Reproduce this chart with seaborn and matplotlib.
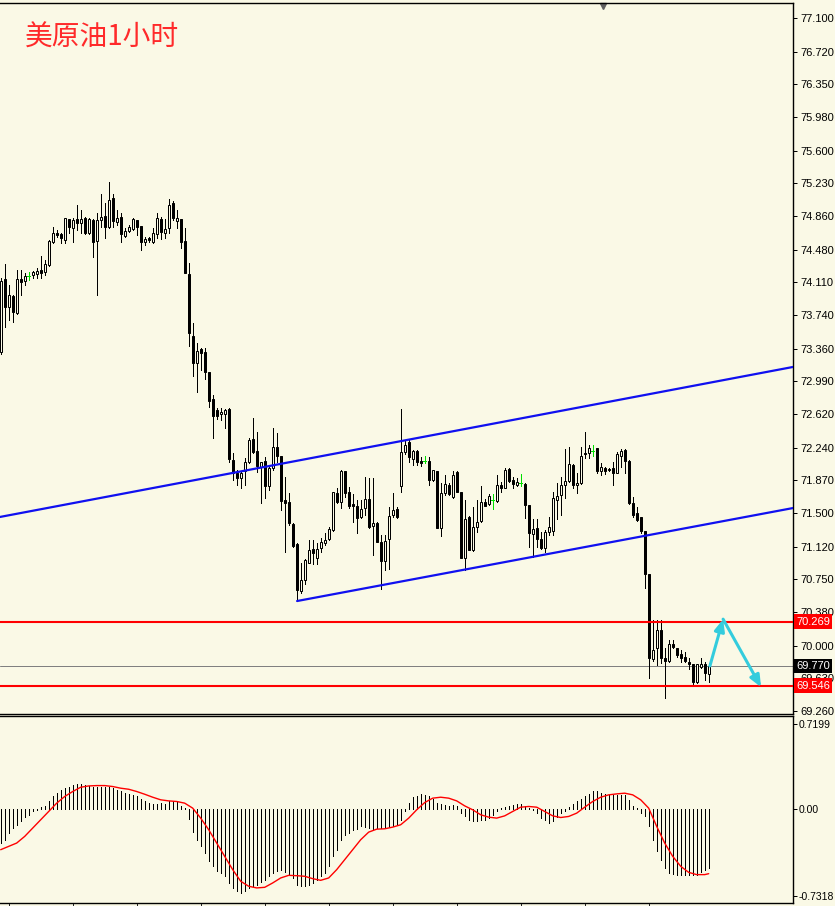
import numpy as np
import pandas as pd
import seaborn as sns
import matplotlib.pyplot as plt
from matplotlib import transforms

# OHLC, one hourly candle per entry
opens = [73.32, 74.15, 73.83, 73.96, 73.76, 74.15, 74.13, 74.18, 74.19, 74.20,
         74.25, 74.23, 74.31, 74.57, 74.67, 74.66, 74.59, 74.83, 74.73, 74.83,
         74.78, 74.84, 74.67, 74.82, 74.58, 74.82, 74.86, 74.74, 75.06, 74.79,
         74.85, 74.63, 74.69, 74.71, 74.82, 74.75, 74.57, 74.61, 74.57, 74.66,
         74.83, 74.67, 74.73, 75.01, 74.80, 74.83, 74.58, 74.20, 73.50, 73.20,
         73.36, 73.32, 73.10, 72.79, 72.67, 72.62, 72.62, 72.68, 72.10, 71.95,
         71.90, 71.98, 72.08, 72.34, 72.20, 72.02, 72.09, 71.81, 72.01, 72.25,
         72.15, 71.65, 71.63, 71.38, 71.15, 70.62, 70.74, 70.94, 71.09, 70.99,
         71.11, 71.16, 71.21, 71.31, 71.73, 71.63, 71.98, 71.74, 71.60, 71.58,
         71.46, 71.56, 71.66, 71.35, 71.39, 71.17, 70.96, 71.21, 71.48, 71.55,
         71.81, 72.19, 72.30, 72.11, 72.20, 72.09, 72.09, 72.09, 71.87, 71.98,
         71.33, 71.73, 71.82, 71.68, 71.96, 71.74, 70.99, 71.46, 71.08, 71.34,
         71.41, 71.63, 71.60, 71.65, 71.64, 71.82, 71.78, 72.00, 71.87, 71.82,
         71.84, 71.83, 71.59, 71.26, 71.33, 71.21, 71.10, 71.29, 71.30, 71.65,
         71.70, 71.82, 71.86, 72.04, 71.82, 71.84, 72.18, 72.18, 72.20, 72.24,
         71.98, 72.01, 72.00, 72.01, 71.95, 72.14, 72.21, 72.09, 71.61, 71.50,
         71.46, 71.30, 70.81, 69.85, 69.97, 70.18, 69.86, 69.83, 70.02, 69.97,
         69.91, 69.87, 69.82, 69.79, 69.59, 69.76, 69.79, 69.68]
highs = [74.16, 74.32, 74.08, 73.97, 74.25, 74.25, 74.22, 74.23, 74.24, 74.27,
         74.41, 74.36, 74.59, 74.74, 74.70, 74.67, 74.84, 74.83, 74.84, 74.99,
         74.93, 74.85, 74.84, 74.83, 74.90, 75.11, 75.01, 75.25, 75.11, 74.93,
         74.90, 74.72, 74.76, 74.84, 74.82, 74.75, 74.62, 74.62, 74.73, 74.90,
         74.85, 74.83, 75.05, 75.03, 74.93, 74.83, 74.73, 74.33, 73.65, 73.42,
         73.37, 73.37, 73.10, 72.84, 72.69, 72.69, 72.68, 72.69, 72.18, 71.99,
         71.97, 72.12, 72.35, 72.58, 72.42, 72.08, 72.13, 72.02, 72.46, 72.41,
         72.15, 71.91, 71.73, 71.39, 71.16, 70.94, 70.98, 71.20, 71.20, 71.16,
         71.22, 71.27, 71.34, 71.74, 71.78, 71.99, 71.98, 71.79, 71.72, 71.65,
         71.65, 71.91, 71.90, 71.90, 71.40, 71.25, 71.25, 71.57, 71.73, 71.57,
         72.68, 72.33, 72.34, 72.21, 72.21, 72.13, 72.14, 72.13, 71.99, 71.98,
         71.84, 71.93, 71.84, 71.98, 71.98, 71.74, 71.65, 71.47, 71.57, 71.65,
         71.81, 71.66, 71.72, 71.72, 71.93, 71.85, 72.01, 72.01, 71.91, 71.90,
         71.94, 71.84, 71.59, 71.43, 71.43, 71.29, 71.31, 71.46, 71.74, 71.84,
         71.91, 72.23, 72.25, 72.06, 71.95, 72.25, 72.42, 72.27, 72.27, 72.24,
         72.07, 72.02, 72.01, 72.08, 72.19, 72.23, 72.23, 72.10, 71.68, 71.57,
         71.46, 71.30, 70.81, 70.29, 70.29, 70.29, 69.97, 70.06, 70.06, 69.97,
         69.95, 69.93, 69.86, 69.79, 69.79, 69.86, 69.82, 69.80]
lows = [73.30, 73.61, 73.68, 73.66, 73.75, 73.97, 74.08, 74.14, 74.16, 74.16,
        74.16, 74.19, 74.30, 74.56, 74.62, 74.56, 74.56, 74.67, 74.57, 74.70,
        74.67, 74.66, 74.66, 74.40, 73.97, 74.74, 74.61, 74.73, 74.74, 74.76,
        74.57, 74.62, 74.68, 74.70, 74.65, 74.48, 74.53, 74.57, 74.56, 74.61,
        74.60, 74.61, 74.67, 74.82, 74.73, 74.50, 74.22, 73.39, 73.05, 72.87,
        73.12, 73.02, 72.70, 72.35, 72.56, 72.55, 72.46, 72.08, 71.87, 71.82,
        71.78, 71.82, 72.07, 72.18, 71.96, 71.61, 71.67, 71.76, 71.99, 72.08,
        71.54, 71.06, 71.37, 71.12, 70.53, 70.60, 70.70, 70.94, 70.92, 70.92,
        71.06, 71.14, 71.20, 71.30, 71.61, 71.56, 71.68, 71.56, 71.40, 71.27,
        71.44, 71.48, 71.33, 71.03, 71.17, 70.64, 70.86, 70.87, 71.46, 71.44,
        71.74, 72.17, 72.08, 72.04, 72.04, 72.03, 72.07, 71.82, 71.86, 71.33,
        71.24, 71.70, 71.70, 71.67, 71.74, 70.99, 70.86, 71.08, 71.07, 71.29,
        71.40, 71.58, 71.59, 71.55, 71.62, 71.74, 71.78, 71.85, 71.78, 71.81,
        71.81, 71.44, 71.12, 71.00, 71.12, 71.09, 71.06, 71.25, 71.25, 71.43,
        71.48, 71.67, 71.85, 71.78, 71.73, 71.83, 72.12, 72.12, 72.14, 71.95,
        71.93, 71.94, 71.98, 71.82, 71.95, 72.02, 71.95, 71.60, 71.46, 71.41,
        71.27, 70.65, 69.63, 69.83, 69.78, 69.80, 69.41, 69.82, 69.97, 69.87,
        69.82, 69.82, 69.74, 69.56, 69.58, 69.75, 69.61, 69.59]
closes = [74.13, 73.83, 73.97, 73.77, 74.15, 74.11, 74.18, 74.18, 74.23, 74.24,
          74.22, 74.32, 74.58, 74.67, 74.65, 74.61, 74.84, 74.74, 74.82, 74.78,
          74.83, 74.67, 74.83, 74.57, 74.82, 74.85, 74.74, 75.04, 74.80, 74.84,
          74.66, 74.69, 74.74, 74.83, 74.74, 74.57, 74.60, 74.59, 74.67, 74.84,
          74.68, 74.71, 74.99, 74.84, 74.84, 74.57, 74.22, 73.54, 73.20, 73.33,
          73.31, 73.10, 72.77, 72.60, 72.60, 72.64, 72.67, 72.11, 71.95, 71.90,
          71.95, 72.08, 72.33, 72.19, 72.03, 72.08, 71.81, 72.01, 72.25, 72.15,
          71.64, 71.61, 71.39, 71.13, 70.63, 70.74, 70.97, 71.08, 71.05, 71.09,
          71.17, 71.20, 71.32, 71.74, 71.63, 71.98, 71.73, 71.58, 71.58, 71.44,
          71.55, 71.66, 71.34, 71.39, 71.17, 70.96, 71.18, 71.47, 71.54, 71.46,
          72.19, 72.27, 72.13, 72.20, 72.08, 72.07, 72.09, 71.87, 71.99, 71.33,
          71.73, 71.83, 71.72, 71.93, 71.74, 70.99, 71.43, 71.08, 71.34, 71.40,
          71.63, 71.58, 71.69, 71.65, 71.82, 71.78, 71.99, 71.86, 71.83, 71.85,
          71.84, 71.59, 71.27, 71.32, 71.21, 71.10, 71.29, 71.34, 71.67, 71.69,
          71.82, 71.86, 72.06, 71.82, 71.84, 72.15, 72.17, 72.24, 72.20, 71.98,
          72.02, 71.98, 71.99, 71.95, 72.17, 72.20, 72.09, 71.61, 71.48, 71.42,
          71.30, 70.81, 69.86, 69.95, 70.18, 69.86, 69.83, 70.02, 69.99, 69.90,
          69.86, 69.83, 69.79, 69.59, 69.79, 69.79, 69.69, 69.77]

# MACD histogram (one per candle) and signal line (every second candle)
macd_hist = [-0.284, -0.256, -0.200, -0.158, -0.130, -0.102, -0.066, -0.046, -0.018, -0.004,
             0.018, 0.029, 0.066, 0.108, 0.136, 0.164, 0.178, 0.186, 0.206, 0.214,
             0.214, 0.206, 0.197, 0.192, 0.192, 0.186, 0.186, 0.186, 0.178, 0.164,
             0.158, 0.141, 0.130, 0.122, 0.108, 0.085, 0.074, 0.052, 0.046, 0.046,
             0.052, 0.046, 0.066, 0.074, 0.066, 0.029, 0.010, -0.083, -0.195, -0.256,
             -0.312, -0.368, -0.438, -0.480, -0.522, -0.536, -0.564, -0.620, -0.662, -0.690,
             -0.704, -0.690, -0.662, -0.648, -0.634, -0.615, -0.592, -0.564, -0.536, -0.522,
             -0.514, -0.531, -0.550, -0.578, -0.634, -0.648, -0.648, -0.634, -0.620, -0.592,
             -0.564, -0.536, -0.480, -0.396, -0.340, -0.256, -0.214, -0.200, -0.172, -0.164,
             -0.144, -0.150, -0.158, -0.167, -0.158, -0.158, -0.158, -0.150, -0.144, -0.130,
             -0.088, -0.018, 0.057, 0.102, 0.113, 0.127, 0.122, 0.108, 0.085, 0.052,
             0.046, 0.038, 0.029, 0.035, 0.024, -0.032, -0.060, -0.088, -0.102, -0.102,
             -0.088, -0.088, -0.074, -0.046, -0.018, 0.010, 0.018, 0.029, 0.038, 0.043,
             0.046, 0.029, 0.010, -0.004, -0.032, -0.074, -0.088, -0.111, -0.102, -0.066,
             -0.032, -0.018, 0.018, 0.046, 0.066, 0.085, 0.108, 0.130, 0.158, 0.158,
             0.141, 0.130, 0.122, 0.122, 0.122, 0.122, 0.122, 0.080, 0.029, 0.010,
             -0.027, -0.055, -0.144, -0.256, -0.354, -0.424, -0.494, -0.536, -0.542, -0.550,
             -0.550, -0.556, -0.550, -0.550, -0.550, -0.531, -0.514, -0.494]
signal_idx = list(range(0, 177, 2)) + [177]
signal_vals = [-0.340, -0.312, -0.284, -0.228, -0.158, -0.088, -0.018, 0.052, 0.108, 0.150,
               0.186, 0.197, 0.200, 0.200, 0.192, 0.178, 0.169, 0.150, 0.127, 0.102,
               0.080, 0.071, 0.066, 0.052, 0.010, -0.074, -0.172, -0.284, -0.396, -0.508,
               -0.606, -0.648, -0.662, -0.657, -0.620, -0.578, -0.556, -0.559, -0.564, -0.584,
               -0.598, -0.578, -0.508, -0.424, -0.340, -0.256, -0.192, -0.167, -0.164, -0.150,
               -0.130, -0.074, -0.004, 0.057, 0.094, 0.102, 0.094, 0.071, 0.029, -0.004,
               -0.046, -0.066, -0.074, -0.055, -0.018, 0.018, 0.024, 0.018, -0.018, -0.055,
               -0.069, -0.060, -0.032, 0.018, 0.066, 0.102, 0.122, 0.130, 0.136, 0.122,
               0.080, 0.010, -0.144, -0.284, -0.396, -0.480, -0.531, -0.550, -0.550, -0.542]

price_ticks = [77.100, 76.720, 76.350, 75.980, 75.600, 75.230, 74.860, 74.480, 74.110, 73.740,
               73.360, 72.990, 72.620, 72.240, 71.870, 71.500, 71.120, 70.750, 70.380, 70.000,
               69.630, 69.260]
macd_ticks = [0.7199, 0.0, -0.7318]
macd_labels = ["0.7199", "0.00", "-0.7318"]
time_ticks = [2, 18, 34, 50, 66, 82, 98, 114, 130, 146, 162]

# drawn objects: channel, levels, bid, forecast arrows
upper_x = [-0.18, 198.1]
upper_y = [71.456, 73.153]
lower_x = [74.1, 198.1]
lower_y = [70.505, 71.557]
levels = [70.269, 69.546]
bid = 69.770
arrow_x = [177.3, 180.6, 190.1]
arrow_y = [69.77, 70.30, 69.53]

bg = "#FAF9E6"
sns.set_style("white", rc={"axes.facecolor": bg, "figure.facecolor": bg})
plt.rcParams["font.family"] = ["Liberation Sans", "DejaVu Sans", "Noto Sans CJK SC"]

df = pd.DataFrame({"o": opens, "h": highs, "l": lows, "c": closes})
df["x"] = np.arange(len(df))
up = df[df.c > df.o]
dn = df[df.c < df.o]
dj = df[df.c == df.o]
nd = df[df.c != df.o]

px = 0.72  # one pixel in points at 100 dpi

fig = plt.figure(figsize=(8.35, 9.06), dpi=100)
ax = fig.add_axes([0, 1 - 714 / 906, 793 / 835, 711 / 906])
ax2 = fig.add_axes([0, 1 - 903 / 906, 793 / 835, 187 / 906])

# candles
ax.vlines(nd.x, nd.l, nd.h, color="black", lw=px, antialiased=False, zorder=3)
ax.bar(up.x, up.c - up.o, bottom=up.o, width=0.5, color=bg, edgecolor="black", linewidth=px, zorder=4)
ax.bar(dn.x, dn.o - dn.c, bottom=dn.c, width=0.5, color="black", edgecolor="black", linewidth=px, zorder=4)
ax.vlines(dj.x, dj.l, dj.h, color="#00E000", lw=px, antialiased=False, zorder=3)
ax.hlines(dj.c, dj.x - 0.35, dj.x + 0.35, color="#00E000", lw=px, antialiased=False, zorder=3)

# channel + levels
ax.plot(upper_x, upper_y, color="#1010F0", lw=1.6, zorder=5)
ax.plot(lower_x, lower_y, color="#1010F0", lw=1.6, zorder=5)
for lv in levels:
    ax.axhline(lv, color="#FF0000", lw=1.5, zorder=5)
ax.axhline(bid, color="#808080", lw=px, zorder=2)

cyan = "#33CCDD"
for i in range(2):
    ax.annotate("", xy=(arrow_x[i + 1], arrow_y[i + 1]), xytext=(arrow_x[i], arrow_y[i]),
                arrowprops=dict(arrowstyle="-|>,head_length=0.7,head_width=0.3", color=cyan,
                                lw=2.2, shrinkA=0, shrinkB=0), zorder=6)

ax.set_xlim(-0.175, 198.075)
ax.set_ylim(69.227, 77.270)
ax.set_xticks([])
ax.yaxis.tick_right()
ax.set_yticks(price_ticks)
ax.set_yticklabels(["%.3f" % t for t in price_ticks])
ax.tick_params(axis="y", direction="out", length=3, width=px, labelsize=8, pad=2, colors="black")
ax.spines["left"].set_visible(False)
for s in ["right", "top", "bottom"]:
    ax.spines[s].set_color("black")
    ax.spines[s].set_linewidth(1)

# price tags on the scale
tr = transforms.blended_transform_factory(ax.transAxes, ax.transData)
for lv in levels:
    ax.text(1.004, lv, "%.3f" % lv, transform=tr, color="white", fontsize=8, va="center", ha="left",
            bbox=dict(boxstyle="square,pad=0.22", fc="#FF0000", ec="none"), clip_on=False, zorder=10)
ax.text(1.004, bid, "%.3f" % bid, transform=tr, color="white", fontsize=8, va="center", ha="left",
        bbox=dict(boxstyle="square,pad=0.22", fc="black", ec="none"), clip_on=False, zorder=10)

ax.text(25 / 793, 0.951, "美原油1小时", transform=ax.transAxes, fontsize=20, color="#FF2A2A",
        family=["Noto Sans CJK SC", "DejaVu Sans"], va="center", ha="left")
ax.plot([603 / 793], [0.9955], marker="v", ms=5, color="#606060", transform=ax.transAxes, clip_on=False)

# MACD panel
ax2.vlines(df.x, 0, macd_hist, color="black", lw=px, antialiased=False)
sns.lineplot(x=signal_idx, y=signal_vals, ax=ax2, color="#FF0000", lw=1)
ax2.set_xlim(-0.175, 198.075)
ax2.set_ylim(-0.789, 0.786)
ax2.yaxis.tick_right()
ax2.set_yticks(macd_ticks)
ax2.set_yticklabels(macd_labels)
ax2.set_xticks(time_ticks)
ax2.set_xticklabels([])
ax2.tick_params(axis="y", direction="out", length=3, width=px, labelsize=7.5, pad=1, colors="black")
ax2.tick_params(axis="x", direction="out", length=3, width=px, bottom=True)
ax2.spines["left"].set_visible(False)
for s in ["right", "top", "bottom"]:
    ax2.spines[s].set_color("black")
    ax2.spines[s].set_linewidth(1)

plt.savefig("out.png", dpi=100, facecolor=bg)
